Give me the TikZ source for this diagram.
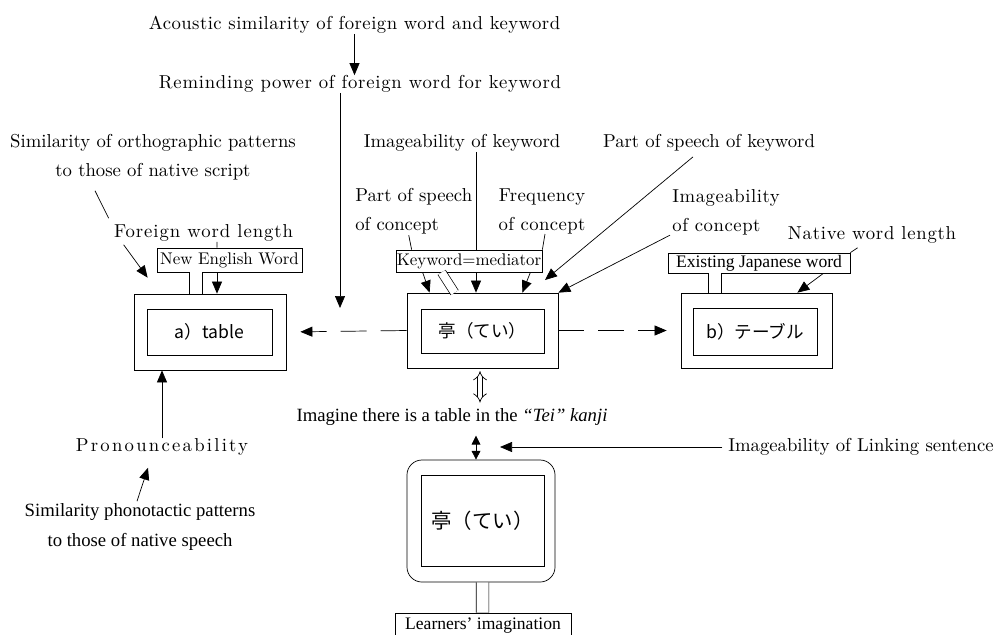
\documentclass[tikz,border=0pt]{standalone}
\usepackage{fontspec}
\setmainfont{lmroman10-regular.otf}[ItalicFont=lmroman10-italic.otf,BoldFont=lmroman10-bold.otf]
\newfontfamily\jp{Noto Sans CJK JP}
\newfontfamily\tms{Liberation Serif}
\usetikzlibrary{arrows.meta,calc}

\begin{document}
\begin{tikzpicture}[x=0.025cm,y=-0.025cm,line width=0.5pt,
    >={Triangle[length=0.3cm,width=0.25cm]},
    txt/.style={inner sep=0pt,font=\fontsize{13.3}{20.6}\selectfont},
    spaced/.style={inner sep=0pt,font=\fontsize{13.3}{20.6}\selectfont\addfontfeature{LetterSpace=#1}},
    spaced/.default=3,
    thin/.style={inner sep=0pt,font=\tms\fontsize{13.3}{21.3}\selectfont},
    wordbox/.style={draw,inner sep=0pt,font=\fontsize{12}{14}\selectfont},
    outerbox/.style={draw,minimum width=3.775cm,minimum height=1.875cm},
    innerbox/.style={draw,inner sep=0pt,font=\jp\fontsize{12.5}{15}\selectfont},
    stem/.style={double,double distance=0.3cm},
    dashline/.style={->,dash pattern=on 0.65cm off 0.35cm},
    hollow/.style={double,double distance=3pt,{Implies}-{Implies}}]
  \useasboundingbox (0,0) rectangle (997,634);

  % factors on top
  \node[spaced=2.5] (acoustic) at (354.5,25) {Acoustic similarity of foreign word and keyword};
  \node[spaced=4] (reminding) at (360,84) {Reminding power of foreign word for keyword};
  \node[txt,align=center] (ortho) at (153,157.5) {Similarity of orthographic patterns\\to those of native script};
  \node[spaced=5] (foreign) at (203.5,233) {Foreign word length};
  \node[txt] (kwimage) at (462,143) {Imageability of keyword};
  \node[txt,align=left,anchor=west] (posconcept) at (355,211) {Part of speech\\of concept};
  \node[spaced=2,align=center] (freq) at (542,211) {Frequency\\of concept};
  \node[txt] (poskw) at (709,143) {Part of speech of keyword};
  \node[spaced,align=left,anchor=west] (imgconcept) at (672,212) {Imageability\\of concept};
  \node[spaced=4] (native) at (872,235) {Native word length};

  % the three words
  \node[outerbox,minimum width=3.8cm,minimum height=1.9cm] (outA) at (210,332) {};
  \node[innerbox,minimum width=3.125cm,minimum height=1.15cm] (inA) at (209.5,332) {a）table};
  \node[wordbox,minimum width=3.625cm,minimum height=0.6cm] (newword) at (229.5,260) {New English Word};
  \node[outerbox] (outK) at (482.5,330.5) {};
  \node[innerbox,minimum width=3.075cm,minimum height=1.1cm] (inK) at (482.5,331) {亭（てい）};
  \node[wordbox,minimum width=3.65cm,minimum height=0.55cm] (mediator) at (469,261) {Keyword=mediator};
  \node[outerbox] (outB) at (756.5,330.5) {};
  \node[innerbox,minimum width=3.1cm,minimum height=1.175cm] (inB) at (755,331.5) {b）テーブル};
  \node[wordbox,font=\tms\fontsize{12.5}{14}\selectfont,minimum width=4.55cm,minimum height=0.5cm] (existing) at (759,263) {Existing Japanese word};

  % lower part
  \node[spaced=12] (pron) at (162,447) {Pronounceability};
  \node[thin,align=center] (phono) at (140,527) {Similarity phonotactic patterns\\to those of native speech};
  \node[thin] (imagine) at (452,417) {Imagine there is a table in the \textit{“Tei” kanji}};
  \node[txt,anchor=east] (linking) at (994,447) {Imageability of Linking sentence};
  \node[draw,rounded corners=0.375cm,minimum width=3.7cm,minimum height=3.05cm] (outL) at (481,521) {};
  \node[innerbox,font=\jp\fontsize{14.5}{17}\selectfont,minimum width=3.075cm,minimum height=2.275cm] (inL) at (482.5,520.5) {亭（てい）};
  \node[wordbox,font=\tms\fontsize{12.5}{14}\selectfont,minimum width=4.4cm,minimum height=0.65cm] (learners) at (483,626) {Learners’ imagination};

  \coordinate (remindtip) at (340,308);
  \coordinate (poskwtip) at (545,280);
  \coordinate (linktip) at (500,447);

  % connectors, left word
  \draw[->] (acoustic.south) -- (acoustic.south |- reminding.north);
  \draw[->] (reminding.south -| remindtip) -- (remindtip);
  \draw ($(ortho.south)+(-58,10)$) -- ($(foreign.north west)+(-5,-6)$);
  \draw[->] ($(foreign.south west)+(10,3)$) -- ($(outA.north west)+(14,-16)$);
  \draw ($(foreign.south)+(13.5,0)$) -- ($(newword.north)+(-12.5,0)$);
  \draw[->] ($(newword.south)+(-12.5,0)$) -- ($(outA.north)+(7,0)$);
  \draw[stem] ($(newword.south)+(-33.5,0)$) -- ($(outA.north)+(-14,0)$);
  \draw[->] (pron.north) -- (pron.north |- outA.south);
  \draw[->] ($(phono.north)+(-3,-2)$) -- ($(pron.south)+(-14,12)$);

  % connectors, keyword
  \draw[dashline] (outK.west) -- (outA.east) [shorten >=0.35cm];
  \draw[dashline] (outK.east) -- (outB.west) [shorten >=0.35cm];
  \draw ($(kwimage.south)+(14,0)$) -- ($(mediator.north)+(7,0)$);
  \draw[->] ($(mediator.south)+(7,0)$) -- ($(outK.north)+(-6.5,0)$);
  \draw ($(posconcept.south)+(-5,1)$) -- ($(mediator.north west)+(16,0)$);
  \draw[->] ($(mediator.south west)+(27,0)$) -- ($(outK.north west)+(23,0)$);
  \draw[stem,double distance=0.2cm] ($(mediator.south west)+(46,0)$) -- ($(outK.north west)+(48,0)$);
  \draw ($(freq.south)+(3,0)$) -- (mediator.north east);
  \draw[->] ($(mediator.south east)+(-12,0)$) -- ($(outK.north east)+(-36,0)$);
  \draw[->] ($(poskw.south)+(-16,5)$) -- (poskwtip);
  \draw[->] ($(imgconcept.south west)+(-2,0)$) -- (outK.north east);

  % connectors, right word
  \draw ($(native.south west)+(70,4)$) -- (existing.north east);
  \draw[->] ($(existing.south east)+(-27,0)$) -- ($(outB.north east)+(-35,0)$);
  \draw[stem] ($(existing.south)+(-44,0)$) -- ($(outB.north)+(-41.5,0)$);

  % connectors, linking sentence
  \draw[hollow,shorten <=2pt,shorten >=4pt] ($(outK.south)+(-2.5,0)$) -- ($(imagine.north)+(28,0)$);
  \draw[{Triangle[length=0.22cm,width=0.22cm]}-{Triangle[length=0.22cm,width=0.22cm]},shorten <=7pt] ($(imagine.south)+(24,0)$) -- ($(outL.north)+(-5,0)$);
  \draw[->,shorten <=4pt] (linking.west) -- (linktip);
  \draw[stem] ($(outL.south)+(1.5,0)$) -- ($(learners.north)+(-0.5,0)$);
\end{tikzpicture}
\end{document}
